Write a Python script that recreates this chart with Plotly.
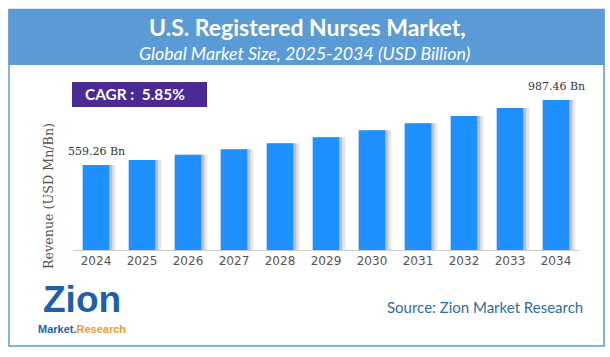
import plotly.graph_objects as go

years = ["2024", "2025", "2026", "2027", "2028", "2029", "2030", "2031", "2032", "2033", "2034"]
revenue = [559.26, 592, 627, 663, 702, 742, 788, 834, 882, 935, 987.46]
bar_labels = ["559.26 Bn", "", "", "", "", "", "", "", "", "", "987.46 Bn"]

title_text = "U.S. Registered Nurses Market,"
subtitle_text = "Global Market Size, 2025-2034 (USD Billion)"
cagr_text = "CAGR :  5.85%"
y_title = "Revenue (USD Mn/Bn)"
source_text = "Source: Zion Market Research"

W, H = 610, 357
def px(x):
    return x / W
def py(y):
    return (H - y) / H

fig = go.Figure()

# shadow bars (soft gradient to the right of each bar)
fig.add_trace(go.Bar(
    x=years, y=revenue, width=0.58, offset=-0.29 + 0.13,
    marker=dict(color="rgba(0,0,0,0.10)", line=dict(width=0)),
    hoverinfo="skip", showlegend=False,
))
fig.add_trace(go.Bar(
    x=years, y=revenue, width=0.58, offset=-0.29 + 0.065,
    marker=dict(color="rgba(0,0,0,0.16)", line=dict(width=0)),
    hoverinfo="skip", showlegend=False,
))
# main bars
fig.add_trace(go.Bar(
    x=years, y=revenue, width=0.58, offset=-0.29,
    marker=dict(color="#1E90FF", line=dict(width=0)),
    showlegend=False,
))

annotations = []
for i, (v, lab) in enumerate(zip(revenue, bar_labels)):
    if lab:
        annotations.append(dict(x=i, y=v, text=lab, showarrow=False, yanchor="bottom",
                                xanchor="center", yshift=5, xref="x", yref="y",
                                font=dict(family="DejaVu Serif", size=11, color="#333333")))

def note(x, y, text, font, xanchor="center", **kw):
    return dict(xref="paper", yref="paper", x=px(x), y=py(y), text=text, showarrow=False,
                xanchor=xanchor, yanchor="middle", font=font, **kw)

annotations += [
    note(307, 27, "<b>" + title_text + "</b>", dict(family="Lato", size=23, color="white")),
    note(304, 53, "<i>" + subtitle_text + "</i>", dict(family="Lato", size=17.8, color="white")),
    note(83, 94.5, "<b>" + cagr_text + "</b>", dict(family="Lato", size=15.4, color="white"), xanchor="left"),
    note(48, 196, y_title, dict(family="DejaVu Serif", size=12.7, color="#555555"), textangle=-90),
    note(585, 307, source_text, dict(family="Lato", size=15, color="#2E6DA4"), xanchor="right"),
    note(82, 299, "<b>Zion</b>", dict(family="Liberation Sans", size=37, color="#1F5FA8")),
    note(82, 329, "<b><span style='color:#1F5FA8'>Market.</span><span style='color:#F39C1F'>Research</span></b>",
         dict(family="Liberation Sans", size=11, color="#1F5FA8")),
]

fig.update_layout(
    width=W, height=H,
    margin=dict(l=0, r=0, t=0, b=0),
    paper_bgcolor="white", plot_bgcolor="rgba(0,0,0,0)",
    barmode="overlay",
    xaxis=dict(domain=[px(73), px(579)], range=[-0.5, 10.5], type="category",
               showgrid=False, zeroline=False, showline=True, linecolor="#cccccc",
               linewidth=1, ticks="", tickfont=dict(family="DejaVu Sans", size=12, color="#555555")),
    yaxis=dict(domain=[py(250), py(80)], range=[0, 1119], showgrid=False, zeroline=False,
               showticklabels=False, showline=False),
    shapes=[
        dict(type="rect", xref="paper", yref="paper", x0=px(9), x1=px(604), y0=py(346), y1=py(9.5),
             line=dict(color="#5B9BD5", width=1.5), fillcolor="rgba(0,0,0,0)", layer="below"),
        dict(type="rect", xref="paper", yref="paper", x0=px(8.5), x1=px(604.5), y0=py(65), y1=py(9.5),
             line=dict(width=0), fillcolor="#5B9BD5", layer="below"),
        dict(type="rect", xref="paper", yref="paper", x0=px(72), x1=px(207), y0=py(107), y1=py(82),
             line=dict(width=0), fillcolor="#4B2A96", layer="below"),
    ],
    annotations=annotations,
)

fig.write_html("out.html", config={"displayModeBar": False})

with open("out.html", "r", encoding="utf-8") as f:
    html = f.read()
html = html.replace("<body>", "<body style=\"margin:0;padding:0;overflow:hidden\">", 1)
with open("out.html", "w", encoding="utf-8") as f:
    f.write(html)
